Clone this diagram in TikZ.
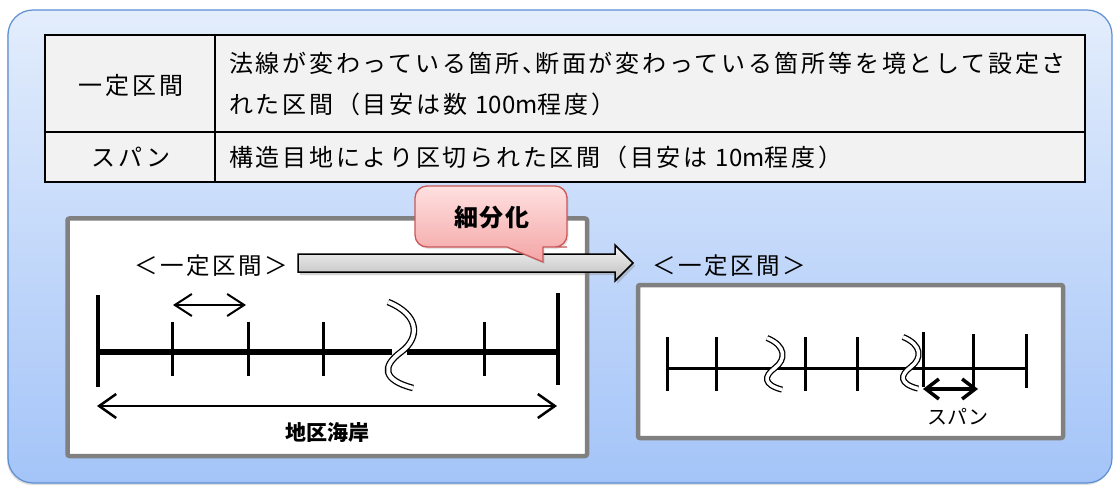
\documentclass[tikz,border=0pt]{standalone}
\usepackage{fontspec}
\setmainfont{Noto Sans CJK JP}
\usetikzlibrary{arrows.meta,shadows,calc}
\definecolor{bgtop}{HTML}{E3EDFC}
\definecolor{bgbot}{HTML}{A4C4F8}
\definecolor{bgline}{HTML}{5C8ED2}
\definecolor{cellfill}{HTML}{F2F2F2}
\definecolor{boxgray}{HTML}{808080}
\definecolor{pinktop}{HTML}{FFE0E0}
\definecolor{pinkbot}{HTML}{F4A5A5}
\definecolor{pinkline}{HTML}{C9585A}
\definecolor{arrtop}{HTML}{F4F4F4}
\definecolor{arrbot}{HTML}{BDBDBD}
\newcommand\lat[1]{{\addfontfeature{LetterSpace=0}#1}}
\newcommand\hcomma{、\kern-11pt}
\begin{document}
\begin{tikzpicture}[x=1pt,y=-1pt,
  tx/.style={inner sep=0pt,font=\fontsize{24}{28}\selectfont\addfontfeature{LetterSpace=11.5}},
  lbl/.style={inner sep=0pt,font=\fontsize{23.5}{28}\selectfont\addfontfeature{LetterSpace=11}},
  panel/.style={draw=boxgray,line width=4.5pt,fill=white,rounded corners=2pt},
  tick/.style={line width=3pt},
  wavestyle/.style={double=white,double distance=4pt,line width=1.3pt},
  wavebreak/.pic={\draw[wavestyle,pic actions] (0,0) .. controls (32,13) and (32,36) .. (13,50) .. controls (-6,64) and (-6,78) .. (25,86);},
  dimarrow/.style={line width=2.5pt,{Straight Barb[length=17pt,width=24pt]}-{Straight Barb[length=17pt,width=24pt]}},
  smallarrow/.style={line width=2pt,{Straight Barb[length=17pt,width=22pt]}-{Straight Barb[length=17pt,width=22pt]}},
  spanarrow/.style={line width=3.5pt,{Straight Barb[length=13pt,width=20pt]}-{Straight Barb[length=13pt,width=20pt]}}
]
\useasboundingbox (0,0) rectangle (1115,486);

% outer panel
\draw[bgline,line width=1.2pt,rounded corners=25pt,top color=bgtop,bottom color=bgbot,
  drop shadow={opacity=0.25,shadow xshift=-1pt,shadow yshift=-2pt}] (8,10) rectangle (1112,483);

% table
\draw[line width=1.8pt,fill=cellfill] (44.6,35) rectangle (1085,182);
\draw[line width=1.8pt] (215,35) -- (215,182);
\draw[line width=1.8pt] (44.6,131.7) -- (1085,131.7);
\node[tx] (c11) at (131,85) {一定区間};
\node[tx,anchor=west] (c12a) at (229,63) {法線が変わっている箇所\hcomma 断面が変わっている箇所等を境として設定さ};
\node[tx,anchor=west] (c12b) at (229,104) {れた区間（目安は数 \lat{100m}程度）};
\node[tx] (c21) at (131,157) {スパン};
\node[tx,anchor=west] (c22) at (229,157) {構造目地により区切られた区間（目安は \lat{10m}程度）};

% panels
\draw[panel] (67.5,218.5) rectangle (587,456);
\draw[panel] (638,285) rectangle (1063,438);

% left diagram
\coordinate (la) at (98,352);
\coordinate (lb) at (392,352);
\coordinate (lc) at (407,352);
\coordinate (ld) at (558,352);
\draw[line width=6.5pt] (la) -- (lb);
\draw[line width=6.5pt] (lc) -- (ld);
\draw[line width=3.5pt] (98,295) -- (98,387);
\draw[line width=3.5pt] (558,293) -- (558,385);
\foreach \xx in {172,248,323,484} \draw[tick] (\xx,322) -- (\xx,376);
\pic at (388,302) {wavebreak};
\coordinate (sa1) at (173,305);
\coordinate (sa2) at (246,305);
\draw[smallarrow] (sa1) -- (sa2);
\coordinate (da1) at (97,406);
\coordinate (da2) at (557,406);
\draw[dimarrow] (da1) -- (da2);
\node[inner sep=0pt,font=\fontsize{21}{24}\selectfont\bfseries] (chiku) at (327,433) {地区海岸};

% right diagram
\coordinate (ra) at (667,368);
\coordinate (rb) at (1026,368);
\draw[line width=3pt] (ra) -- (rb);
\draw[tick] (667,337) -- (667,391);
\draw[tick] (716,337) -- (716,391);
\draw[tick] (805,337) -- (805,391);
\draw[tick] (857,337) -- (857,391);
\draw[tick] (923,332) -- (923,387);
\draw[tick] (973,334) -- (973,390);
\draw[tick] (1026,334) -- (1026,388);
\pic[scale=0.6,wavestyle/.append style={double distance=3.5pt}] at (767,338) {wavebreak};
\pic[scale=0.6,wavestyle/.append style={double distance=3.5pt}] at (903,337) {wavebreak};
\coordinate (sp1) at (923,389);
\coordinate (sp2) at (978,389);
\draw[spanarrow] (sp1) -- (sp2);
\node[inner sep=0pt,font=\fontsize{20}{24}\selectfont] (span) at (958,417) {スパン};

% labels
\node[lbl] (lab1) at (211,266) {＜一定区間＞};
\node[lbl] (lab2) at (729,266) {＜一定区間＞};

% big arrow
\coordinate (as) at (298,263);
\coordinate (ae) at (633,263);
\draw[line width=1.5pt,top color=arrtop,bottom color=arrbot,line join=miter,
  drop shadow={opacity=0.35,shadow xshift=2pt,shadow yshift=-3pt}]
  ($(as)+(0,-9)$) -- ($(ae)+(-18,-9)$) -- ($(ae)+(-18,-18)$) -- (ae)
  -- ($(ae)+(-18,18)$) -- ($(ae)+(-18,9)$) -- ($(as)+(0,9)$) -- cycle;

% callout
\draw[pinkline,line width=1.3pt,top color=pinktop,bottom color=pinkbot,
  drop shadow={opacity=0.2,shadow xshift=1.5pt,shadow yshift=-2pt}]
  (491,186) [rounded corners=12pt] -- (567,186) -- (567,247) -- (555,247)
  [sharp corners] -- (543,247) -- (543,262) -- (507,247) -- (495,247)
  [rounded corners=12pt] -- (415,247) -- (415,186) -- cycle;
\node[inner sep=0pt,font=\fontsize{24}{28}\selectfont\bfseries\addfontfeature{LetterSpace=8}] (cal) at (492,217) {細分化};
\end{tikzpicture}
\end{document}
